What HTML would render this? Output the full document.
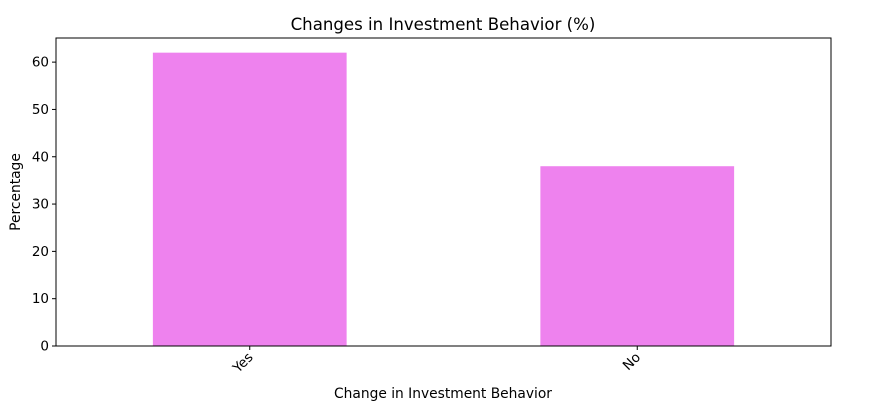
<!DOCTYPE html>
<html><head><meta charset="utf-8"><style>
body{margin:0;background:#fff;width:895px;height:410px;overflow:hidden}
text{font-family:"DejaVu Sans","Liberation Sans",sans-serif;fill:#000}
</style></head><body>
<svg id="chart" width="895" height="410">
<text x="443" y="30" font-size="16.6" text-anchor="middle">Changes in Investment Behavior (%)</text>
<g id="bars"></g>
<rect x="56" y="38" width="775" height="308" fill="none" stroke="#000" stroke-width="1"/>
<g id="yaxis"></g><g id="xaxis"></g>
<text transform="translate(20,192) rotate(-90)" font-size="13.8" text-anchor="middle">Percentage</text>
<text x="443" y="398" font-size="13.8" text-anchor="middle">Change in Investment Behavior</text>
</svg>
<script>
const categories = ["Yes", "No"];
const values = [62, 38];
const yTicks = [0, 10, 20, 30, 40, 50, 60];
const L=56,R=831,T=38,B=346,yMax=65.1;
const ns="http://www.w3.org/2000/svg";
function y(v){return B-(v/yMax)*(B-T);}
function x(i){return L+(i+0.5)/categories.length*(R-L);}
const bw=(R-L)/categories.length*0.5;
const bars=document.getElementById('bars');
values.forEach((v,i)=>{
 const r=document.createElementNS(ns,'rect');
 r.setAttribute('x',x(i)-bw/2);r.setAttribute('y',y(v));
 r.setAttribute('width',bw);r.setAttribute('height',B-y(v));
 r.setAttribute('fill','#ee82ee');
 
 
 bars.appendChild(r);
});
const ya=document.getElementById('yaxis');
yTicks.forEach(t=>{
 const l=document.createElementNS(ns,'line');
 l.setAttribute('x1',L-4);l.setAttribute('x2',L);l.setAttribute('y1',y(t));l.setAttribute('y2',y(t));l.setAttribute('stroke','#000');
 
 
 ya.appendChild(l);
 const tx=document.createElementNS(ns,'text');
 tx.setAttribute('x',L-7);tx.setAttribute('y',y(t)+4.5);tx.setAttribute('font-size','13.5');tx.setAttribute('text-anchor','end');
 tx.textContent=t;
 
 
 ya.appendChild(tx);
});
const xa=document.getElementById('xaxis');
categories.forEach((c,i)=>{
 const l=document.createElementNS(ns,'line');
 l.setAttribute('x1',x(i));l.setAttribute('x2',x(i));l.setAttribute('y1',B);l.setAttribute('y2',B+4);l.setAttribute('stroke','#000');
 
 
 xa.appendChild(l);
 const tx=document.createElementNS(ns,'text');
 tx.setAttribute('transform','translate('+(x(i)+4)+','+(B+12)+') rotate(-45)');
 tx.setAttribute('font-size','13.5');tx.setAttribute('text-anchor','end');
 tx.textContent=c;
 
 
 xa.appendChild(tx);
});
</script>
</body></html>
